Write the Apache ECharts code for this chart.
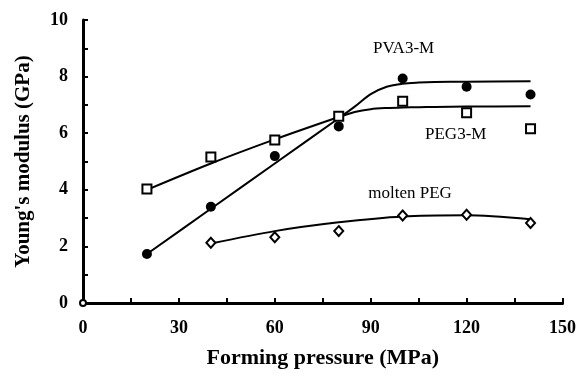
<!DOCTYPE html>
<html>
<head>
<meta charset="utf-8">
<script src="https://cdn.jsdelivr.net/npm/echarts@6/dist/echarts.min.js"></script>
<style>
  html, body { margin: 0; padding: 0; background: #fff; }
  #chart { width: 579px; height: 380px; }
</style>
</head>
<body>
<div id="chart"></div>
<script>
// Forming pressure (MPa) for measured samples
const pressures = [20, 40, 60, 80, 100, 120, 140];
const moltenPressures = [40, 60, 80, 100, 120, 140];

// Young's modulus (GPa), measured
const pva3m = [1.73, 3.40, 5.19, 6.24, 7.93, 7.64, 7.37];
const peg3m = [4.03, 5.16, 5.76, 6.60, 7.13, 6.72, 6.16];
const moltenPeg = [2.13, 2.32, 2.54, 3.09, 3.12, 2.83];

// Origin point
const originPoint = [[0, 0]];

// Trend curves drawn through the measurements
const pvaFitX = [20, 40, 60, 80, 85, 90, 95, 100, 105, 110, 120, 140];
const pvaFitY = [1.73, 3.33, 4.93, 6.53, 6.94, 7.38, 7.64, 7.75, 7.79, 7.81, 7.82, 7.84];
const pegFitX = [20, 40, 60, 80, 85, 90, 95, 100, 105, 110, 120, 140];
const pegFitY = [4.00, 4.93, 5.78, 6.57, 6.75, 6.85, 6.89, 6.91, 6.92, 6.93, 6.94, 6.95];
const moltenFitX = [40, 60, 80, 100, 120, 140];
const moltenFitY = [2.10, 2.54, 2.85, 3.06, 3.10, 2.96];

// Axis ticks
const xTicks = [0, 30, 60, 90, 120, 150];
const yTicks = [0, 2, 4, 6, 8, 10];

// Curve labels placed in data space
const curveLabels = [
  { text: 'PVA3-M', at: [100.3, 8.98] },
  { text: 'PEG3-M', at: [116.6, 5.96] },
  { text: 'molten PEG', at: [102.3, 3.87] }
];

const zip = (xs, ys) => xs.map((x, i) => [x, ys[i]]);

const serif = '"Liberation Serif", "Times New Roman", serif';
const chart = echarts.init(document.getElementById('chart'), null, { renderer: 'canvas' });

const axisCommon = {
  axisLine: { show: true, onZero: false, lineStyle: { color: '#000', width: 3 } },
  axisTick: { show: true, inside: true, length: 5, lineStyle: { color: '#000', width: 2 } },
  splitLine: { show: false },
  minorTick: { show: false }
};

const fitLine = (name, xs, ys) => ({
  name, type: 'line', data: zip(xs, ys),
  smooth: 0.3, showSymbol: false, symbol: 'none',
  lineStyle: { color: '#000', width: 2 }, z: 2
});

const option = {
  animation: false,
  backgroundColor: '#fff',
  grid: { left: 83, right: 16, top: 20, bottom: 77, containLabel: false },
  xAxis: Object.assign({}, axisCommon, {
    type: 'value',
    min: 0, max: 150, interval: 15,
    name: 'Forming pressure (MPa)',
    nameLocation: 'middle',
    nameGap: 44,
    nameTextStyle: { fontFamily: serif, fontWeight: 'bold', fontSize: 22, color: '#000' },
    axisLabel: {
      margin: 16, fontFamily: serif, fontWeight: 'bold', fontSize: 18, color: '#000',
      showMinLabel: true, showMaxLabel: true,
      formatter: v => (xTicks.includes(v) ? String(v) : '')
    }
  }),
  yAxis: Object.assign({}, axisCommon, {
    type: 'value',
    min: 0, max: 10, interval: 1,
    name: "Young's modulus (GPa)",
    nameLocation: 'middle',
    nameGap: 49,
    nameTextStyle: { fontFamily: serif, fontWeight: 'bold', fontSize: 21, color: '#000' },
    axisLabel: {
      margin: 15, fontFamily: serif, fontWeight: 'bold', fontSize: 18, color: '#000',
      showMinLabel: true, showMaxLabel: true,
      formatter: v => (yTicks.includes(v) ? String(v) : '')
    }
  }),
  series: [
    fitLine('PVA3-M fit', pvaFitX, pvaFitY),
    fitLine('PEG3-M fit', pegFitX, pegFitY),
    fitLine('molten PEG fit', moltenFitX, moltenFitY),
    {
      name: 'PVA3-M', type: 'scatter', data: zip(pressures, pva3m),
      symbol: 'circle', symbolSize: 10,
      itemStyle: { color: '#000', opacity: 1 }, z: 5
    },
    {
      name: 'PEG3-M', type: 'scatter', data: zip(pressures, peg3m),
      symbol: 'rect', symbolSize: 9,
      itemStyle: { color: '#fff', borderColor: '#000', borderWidth: 2, opacity: 1 }, z: 5
    },
    {
      name: 'molten PEG', type: 'scatter', data: zip(moltenPressures, moltenPeg),
      symbol: 'diamond', symbolSize: [9, 10],
      itemStyle: { color: '#fff', borderColor: '#000', borderWidth: 2, opacity: 1 }, z: 5
    },
    {
      name: 'origin', type: 'scatter', data: originPoint,
      symbol: 'circle', symbolSize: 6,
      itemStyle: { color: '#fff', borderColor: '#000', borderWidth: 2, opacity: 1 }, z: 6
    }
  ]
};

chart.setOption(option);

// Text labels next to each curve
chart.setOption({
  graphic: curveLabels.map(l => {
    const p = chart.convertToPixel({ gridIndex: 0 }, l.at);
    return {
      type: 'text', x: p[0], y: p[1], z: 10,
      style: {
        text: l.text, fill: '#000', font: '17px ' + serif,
        textAlign: 'center', textVerticalAlign: 'middle'
      }
    };
  })
});
</script>
</body>
</html>
